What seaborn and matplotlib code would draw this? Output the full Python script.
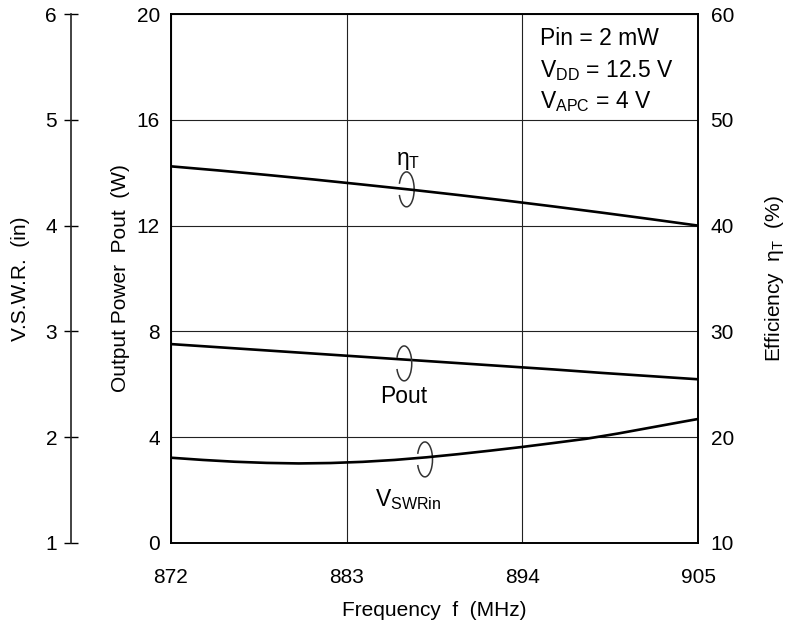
import matplotlib
matplotlib.use("Agg")
import matplotlib.pyplot as plt
from matplotlib.patches import Arc
import pandas as pd
import seaborn as sns

# Frequency sweep (MHz)
freq = [872, 875, 878, 881, 884, 887, 890, 893, 896, 899, 902, 905]
# Output power Pout (W)
pout = [7.52, 7.40, 7.28, 7.16, 7.04, 6.92, 6.80, 6.68, 6.56, 6.43, 6.31, 6.19]
# Total efficiency eta_T (%)
eff = [45.6, 45.21, 44.79, 44.35, 43.88, 43.40, 42.89, 42.36, 41.80, 41.22, 40.62, 40.0]
# Input VSWR
vswr_freq = [872, 874, 876, 878, 880, 882, 884, 886, 888, 890, 892, 894,
             896, 898, 900, 902, 904, 905]
vswr = [1.806, 1.785, 1.768, 1.757, 1.752, 1.756, 1.767, 1.785, 1.810, 1.840,
        1.873, 1.908, 1.946, 1.985, 2.035, 2.090, 2.145, 2.172]

x_ticks = [872, 883, 894, 905]
pout_ticks = [0, 4, 8, 12, 16, 20]
eff_ticks = [10, 20, 30, 40, 50, 60]
vswr_ticks = [1, 2, 3, 4, 5, 6]

conditions = ["Pin = 2 mW",
              r"V$_\mathregular{DD}$ = 12.5 V",
              r"V$_\mathregular{APC}$ = 4 V"]

sns.set_theme(style="white")
plt.rcParams["font.family"] = ["Liberation Sans", "DejaVu Sans"]
plt.rcParams["mathtext.fontset"] = "custom"
plt.rcParams["mathtext.rm"] = "Liberation Sans"
plt.rcParams["mathtext.it"] = "Liberation Sans:italic"
plt.rcParams["axes.edgecolor"] = "black"
plt.rcParams["text.color"] = "black"
plt.rcParams["axes.labelcolor"] = "black"

FS_TICK = 15
FS_LAB = 15
FS_ANN = 16.5

fig = plt.figure(figsize=(7.93, 6.27), dpi=100)
ax = fig.add_axes([171 / 793, 84 / 627, 527 / 793, 529 / 627])
ax_e = ax.twinx()
ax_v = ax.twinx()

df_main = pd.DataFrame({"freq": freq, "pout": pout, "eff": eff})
df_v = pd.DataFrame({"freq": vswr_freq, "vswr": vswr})

lw = 1.9
sns.lineplot(data=df_main, x="freq", y="pout", ax=ax, color="black", lw=lw)
sns.lineplot(data=df_main, x="freq", y="eff", ax=ax_e, color="black", lw=lw)
sns.lineplot(data=df_v, x="freq", y="vswr", ax=ax_v, color="black", lw=lw)

# Main axis: output power
ax.set_xlim(872, 905)
ax.set_ylim(0, 20)
ax.set_xticks(x_ticks)
ax.set_yticks(pout_ticks)
ax.tick_params(axis="both", length=0, labelsize=FS_TICK, colors="black")
ax.tick_params(axis="x", pad=18)
ax.tick_params(axis="y", pad=8)
ax.grid(True, color="#222222", lw=0.8)
ax.set_xlabel("Frequency  f  (MHz)", fontsize=FS_LAB, labelpad=10)
ax.set_ylabel("Output Power  Pout  (W)", fontsize=FS_LAB, labelpad=5)
for s in ax.spines.values():
    s.set_linewidth(1.4)
    s.set_color("black")

# Right axis: efficiency
ax_e.set_ylim(10, 60)
ax_e.set_yticks(eff_ticks)
ax_e.tick_params(axis="y", length=0, labelsize=FS_TICK, pad=9, colors="black")
ax_e.set_ylabel(r"Efficiency  η$_\mathregular{T}$  (%)", fontsize=FS_LAB, labelpad=21)
ax_e.grid(False)
for s in ax_e.spines.values():
    s.set_visible(False)

# Outer left axis: VSWR
ax_v.set_ylim(1, 6)
ax_v.set_yticks(vswr_ticks)
ax_v.yaxis.set_label_position("left")
ax_v.yaxis.set_ticks_position("left")
ax_v.spines["left"].set_position(("axes", -100 / 527))
ax_v.spines["left"].set_visible(True)
ax_v.spines["left"].set_linewidth(1.2)
ax_v.spines["left"].set_color("#222222")
for k in ("right", "top", "bottom"):
    ax_v.spines[k].set_visible(False)
ax_v.tick_params(axis="y", direction="inout", length=10, width=1.0,
                 labelsize=FS_TICK, pad=5, colors="black")
ax_v.set_ylabel("V.S.W.R.  (in)", fontsize=FS_LAB, labelpad=11)
ax_v.grid(False)
ax_v.set_xlabel("")

ax.set_xlim(872, 905)

# Curve identification loops
def loop(xc, yc):
    arc = Arc((xc, yc), 0.95, 1.32, theta1=205, theta2=155,
              color="#333333", lw=1.1, zorder=5)
    ax.add_patch(arc)

loop(886.75, 13.37)
loop(886.6, 6.79)
loop(887.9, 3.16)

ax.text(886.85, 14.45, r"η$_\mathregular{T}$", fontsize=FS_ANN, ha="center", va="center")
ax.text(886.6, 5.52, "Pout", fontsize=FS_ANN, ha="center", va="center")
ax.text(886.85, 1.65, r"V$_\mathregular{SWRin}$", fontsize=FS_ANN, ha="center", va="center")

for txt, yb in zip(conditions, [18.83, 17.63, 16.43]):
    ax.text(895.1, yb, txt, fontsize=FS_ANN, ha="left", va="baseline")

fig.savefig("out.png", dpi=100, facecolor="white")
